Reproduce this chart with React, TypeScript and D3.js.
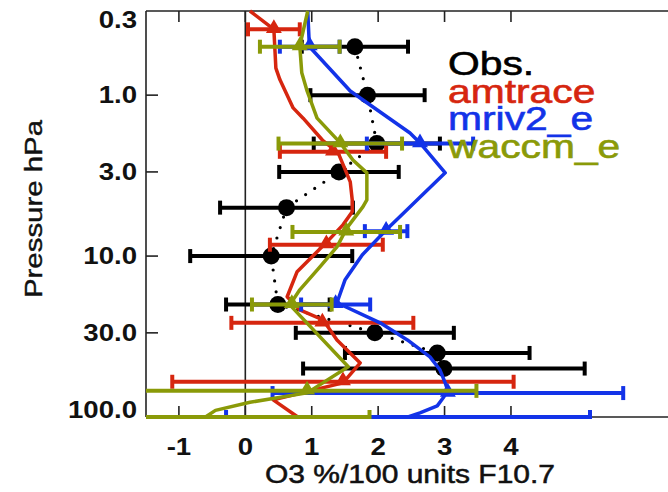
import React from "react";
import * as d3 from "d3";

// ---- axis ticks ----
const yTickValues = [0.3, 1, 3, 10, 30, 100];
const yTickLabels = ["0.3", "1.0", "3.0", "10.0", "30.0", "100.0"];
const xTickValues = [-1, 0, 1, 2, 3, 4];
const xTickLabels = ["-1", "0", "1", "2", "3", "4"];

// ---- observations ----
const obsP = [0.5, 1, 2, 3, 5, 10, 20, 30, 40, 50];
const obsX = [1.65, 1.84, 1.98, 1.41, 0.62, 0.39, 0.49, 1.95, 2.89, 2.99];
const obsErr = [0.8, 0.86, 0.95, 0.9, 1.0, 1.22, 0.78, 1.19, 1.39, 2.12];

// ---- amtrace ----
const amtraceLineP = [0.3, 0.39, 0.68, 0.8, 1.2, 1.39, 1.9, 2.29, 3.46, 4.48, 5.31, 6.4, 8.16, 12.5, 17.9, 21.6, 24.9, 33.2, 46.1, 61.4, 78.2, 100];
const amtraceLineX = [0.07, 0.43, 0.46, 0.52, 0.72, 0.87, 1.16, 1.4, 1.58, 1.61, 1.61, 1.47, 1.23, 0.78, 0.63, 0.82, 1.17, 1.38, 1.73, 1.47, 0.42, 0.79];
const amtraceMarkP = [0.39, 2.25, 8.5, 26, 60.4];
const amtraceMarkX = [0.43, 1.32, 1.22, 1.16, 1.47];
const amtraceMarkErr = [0.39, 0.8, 0.85, 1.37, 2.57];

// ---- mriv2_e ----
const mrivLineP = [0.3, 0.454, 0.502, 0.942, 1.72, 1.98, 3.04, 6.88, 9.84, 14.1, 19.5, 26.0, 33.2, 42.3, 50.9, 61.4, 68.8, 76.0, 85.3, 94.3, 100];
const mrivLineX = [0.94, 0.96, 0.97, 1.58, 2.48, 2.63, 3.01, 2.12, 1.76, 1.5, 1.38, 2.03, 2.44, 2.78, 2.93, 3.01, 3.05, 2.98, 2.89, 2.63, 2.45];
const mrivMarkP = [0.5, 2.0, 7.0, 20, 71, 100];
const mrivMarkX = [0.97, 2.63, 2.12, 1.36, 3.05, 2.45];
const mrivMarkErr = [0.45, 0.8, 0.32, 0.52, 2.64, 2.74];

// ---- waccm_e ----
const waccmLineP = [0.3, 0.494, 0.727, 0.942, 1.39, 1.98, 2.53, 3.04, 4.48, 4.95, 6.68, 8.77, 11.7, 16.2, 20.1, 48.7, 70.8, 81, 91, 100];
const waccmLineX = [0.94, 0.82, 0.85, 0.93, 1.08, 1.43, 1.62, 1.83, 1.83, 1.77, 1.53, 1.38, 1.12, 0.82, 0.67, 1.55, 0.93, 0.07, -0.45, -0.6];
const waccmMarkP = [0.5, 2.0, 7.08, 20, 68.8, 100];
const waccmMarkX = [0.82, 1.43, 1.52, 0.7, 0.93, -0.6];
const waccmMarkErr = [0.6, 0.93, 0.81, 0.6, 2.55, 2.47];

// ---- legend ----
const legendNames = ["Obs.", "amtrace", "mriv2_e", "waccm_e"];
const legendColors = ["#000000", "#d6260f", "#1333e8", "#8a9a08"];

const W = 668;
const H = 492;
const FONT = "'Liberation Sans', Arial, Helvetica, sans-serif";
const SX = 1.2;

const x = d3.scaleLinear().domain([-1.5, 6.5]).range([145.7, 677]);
const y = d3.scaleLog().domain([0.3, 100]).range([11, 417]);
const plotLeft = 146;
const plotTop = 11;
const plotBottom = 417;

const line = d3
  .line<[number, number]>()
  .x((d) => x(d[0]))
  .y((d) => y(d[1]));

function ErrBars({ P, X, E, color }: { P: number[]; X: number[]; E: number[]; color: string }) {
  return (
    <g stroke={color} strokeWidth={4} fill="none">
      {P.map((p, i) => {
        const yy = y(p);
        const x0 = x(X[i] - E[i]);
        const x1 = x(X[i] + E[i]);
        return (
          <g key={i}>
            <line x1={x0} x2={x1} y1={yy} y2={yy} />
            <line x1={x0} x2={x0} y1={yy - 7} y2={yy + 7} />
            <line x1={x1} x2={x1} y1={yy - 7} y2={yy + 7} />
          </g>
        );
      })}
    </g>
  );
}

function Model({ lineP, lineX, markP, markX, markErr, color }: any) {
  const pts: [number, number][] = lineP.map((p: number, i: number) => [lineX[i], p]);
  const tri = d3.symbol().type(d3.symbolTriangle).size(110)() as string;
  const maxP = y.domain()[1];
  return (
    <g>
      <path d={line(pts) || ""} stroke={color} strokeWidth={3.5} fill="none" strokeLinejoin="round" />
      <ErrBars P={markP} X={markX} E={markErr} color={color} />
      {markP.map((p: number, i: number) =>
        p < maxP ? (
          <path key={i} d={tri} transform={`translate(${x(markX[i])},${y(p) - 1})`} fill={color} />
        ) : null
      )}
    </g>
  );
}

export default function App() {
  const obsPts: [number, number][] = obsP.map((p, i) => [obsX[i], p]);
  return (
    <svg
      width={W}
      height={H}
      style={{ position: "fixed", left: 0, top: 0, background: "#fff" }}
      fontFamily={FONT}
    >
      <defs>
        <clipPath id="plot">
          <rect x={plotLeft} y={3} width={W - plotLeft} height={plotBottom + 2 - 3} />
        </clipPath>
      </defs>
      <rect x={0} y={0} width={W} height={H} fill="#fff" />

      {/* frame */}
      <g stroke="#222" strokeWidth={1.6} fill="none">
        <line x1={plotLeft} x2={W} y1={plotTop} y2={plotTop} />
        <line x1={plotLeft} x2={W} y1={plotBottom} y2={plotBottom} />
        <line x1={plotLeft} x2={plotLeft} y1={plotTop} y2={plotBottom} />
        <line x1={x(0)} x2={x(0)} y1={plotTop} y2={plotBottom} />
        {xTickValues.map((v) => (
          <g key={v}>
            <line x1={x(v)} x2={x(v)} y1={plotTop} y2={plotTop + 11} />
            <line x1={x(v)} x2={x(v)} y1={plotBottom} y2={plotBottom - 11} />
          </g>
        ))}
        {yTickValues.slice(1, -1).map((v) => (
          <line key={v} x1={plotLeft} x2={plotLeft + 12} y1={y(v)} y2={y(v)} />
        ))}
      </g>

      <g clipPath="url(#plot)">
        {/* observations */}
        <path
          d={line(obsPts) || ""}
          stroke="#000"
          strokeWidth={3.2}
          strokeDasharray="0 11"
          strokeLinecap="round"
          fill="none"
        />
        <ErrBars P={obsP} X={obsX} E={obsErr} color="#000" />
        {obsP.map((p, i) => (
          <circle key={i} cx={x(obsX[i])} cy={y(p)} r={8.5} fill="#000" />
        ))}

        <Model
          lineP={amtraceLineP}
          lineX={amtraceLineX}
          markP={amtraceMarkP}
          markX={amtraceMarkX}
          markErr={amtraceMarkErr}
          color={legendColors[1]}
        />
        <Model
          lineP={mrivLineP}
          lineX={mrivLineX}
          markP={mrivMarkP}
          markX={mrivMarkX}
          markErr={mrivMarkErr}
          color={legendColors[2]}
        />
        <Model
          lineP={waccmLineP}
          lineX={waccmLineX}
          markP={waccmMarkP}
          markX={waccmMarkX}
          markErr={waccmMarkErr}
          color={legendColors[3]}
        />
      </g>

      {/* y tick labels */}
      {yTickValues.map((v, i) => {
        const yc = Math.min(410, Math.max(20, y(v)));
        return (
          <text
            key={v}
            transform={`translate(137,${yc + 8}) scale(${SX},1)`}
            textAnchor="end"
            fontSize={23}
            fontWeight="bold"
            fill="#111"
          >
            {yTickLabels[i]}
          </text>
        );
      })}

      {/* x tick labels */}
      {xTickValues.map((v, i) => (
        <text
          key={v}
          transform={`translate(${x(v)},455) scale(${SX},1)`}
          textAnchor="middle"
          fontSize={23}
          fontWeight="bold"
          fill="#111"
        >
          {xTickLabels[i]}
        </text>
      ))}

      {/* axis titles */}
      <text
        transform={`translate(410,483) scale(${SX},1)`}
        textAnchor="middle"
        fontSize={25}
        fill="#111"
        stroke="#111"
        strokeWidth={0.5}
      >
        O3 %/100 units F10.7
      </text>
      <text
        transform={`translate(42,209) rotate(-90) scale(${SX},1)`}
        textAnchor="middle"
        fontSize={24.5}
        fill="#111"
        stroke="#111"
        strokeWidth={0.4}
      >
        Pressure hPa
      </text>

      {/* legend */}
      {legendNames.map((n, i) => (
        <text
          key={n}
          transform={`translate(448,${75 + i * 27.6}) scale(${SX},1)`}
          fontSize={34}
          fill={legendColors[i]}
          stroke={legendColors[i]}
          strokeWidth={0.6}
        >
          {n}
        </text>
      ))}
    </svg>
  );
}
